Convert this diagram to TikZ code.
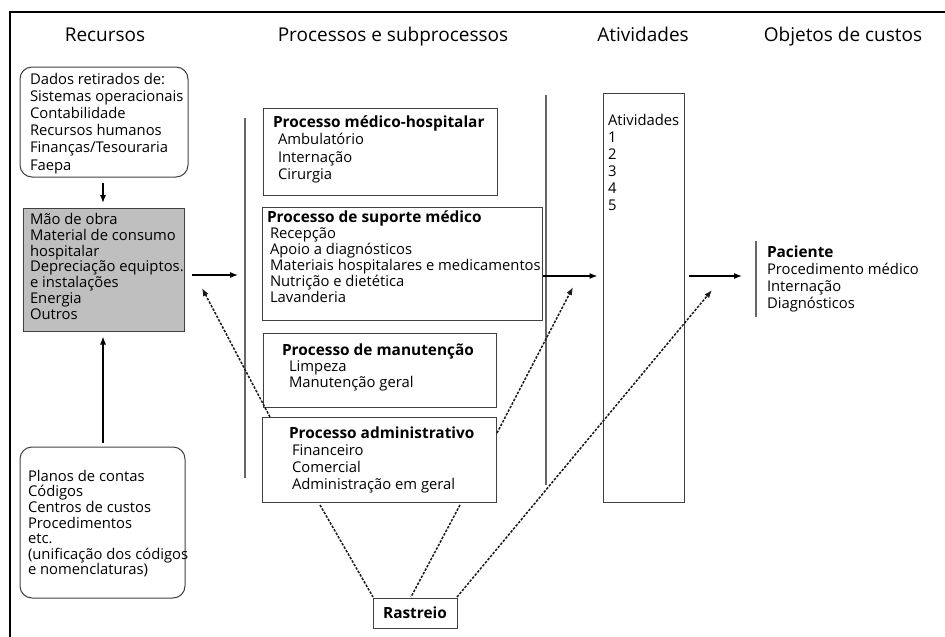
\documentclass[tikz,border=0pt]{standalone}
\usepackage{fontspec}
\setmainfont{Open Sans}
\usetikzlibrary{fit,arrows.meta}
\newcommand{\mylines}[2]{{\fontsize{14.8}{#1}\selectfont\begin{tabular}[t]{@{}l@{}}#2\end{tabular}}}
\newcommand{\hd}[1]{{\fontsize{15.4}{16}\selectfont\bfseries #1}}
\tikzset{
  frame/.style={draw=black, line width=1.2pt},
  box/.style={draw=black!75, line width=1pt, inner sep=0pt},
  rbox/.style={box, rounded corners=12pt},
  gbox/.style={box, fill=black!25},
  txt/.style={anchor=base west, inner sep=0pt, outer sep=0pt},
  title/.style={anchor=base, inner sep=0pt, font=\fontsize{19}{21}\selectfont},
  vline/.style={draw=black!60, line width=1.2pt},
  arr/.style={-{Latex[length=8pt,width=6pt]}, line width=1.2pt, draw=black},
  dotarr/.style={-{Latex[length=8pt,width=6pt]}, line width=1.5pt, draw=black!90, dash pattern=on 2.5pt off 1.5pt},
  dotline/.style={line width=1.5pt, draw=black!90, dash pattern=on 2.5pt off 1.5pt},
}
\begin{document}
\begin{tikzpicture}[x=1pt,y=-1pt]
\useasboundingbox (0,0) rectangle (945,637);
% frame (only top and left visible)
\draw[frame] (945,12) -- (10,12) -- (10,637);

% titles
\node[title] (h1) at (105,41) {Recursos};
\node[title] (h2) at (393,41) {Processos e subprocessos};
\node[title] (h3) at (643,41) {Atividades};
\node[title] (h4) at (843,41) {Objetos de custos};

% resources
\coordinate (d1) at (20,67); \coordinate (d2) at (188,177);
\node[rbox, fit=(d1)(d2)] (dados) {};
\node[txt] (tdados) at (30,84) {\mylines{17.2pt}{Dados retirados de:\\Sistemas operacionais\\Contabilidade\\Recursos humanos\\Finanças/Tesouraria\\Faepa}};

\coordinate (g1) at (23,208); \coordinate (g2) at (184,331);
\node[gbox, fit=(g1)(g2)] (gray) {};
\node[txt] (tgray) at (30,224) {\mylines{15.9pt}{Mão de obra\\Material de consumo\\hospitalar\\Depreciação equiptos.\\e instalações\\Energia\\Outros}};

\coordinate (p1) at (20,447); \coordinate (p2) at (185,598);
\node[rbox, fit=(p1)(p2)] (planos) {};
\node[txt] (tplanos) at (28,481) {\mylines{15pt}{Planos de contas\\Códigos\\Centros de custos\\Procedimentos\\etc.\\(unificação dos códigos\\e nomenclaturas)}};

% process column lines
\coordinate (L1a) at (245,118); \coordinate (L1b) at (245,478);
\draw[vline] (L1a) -- (L1b);
\coordinate (L2a) at (546,95); \coordinate (L2b) at (546,485);
\draw[vline] (L2a) -- (L2b);

% process boxes
\coordinate (m1) at (263,108); \coordinate (m2) at (497,195);
\node[box, fit=(m1)(m2)] (med) {};
\node[txt] (tmed) at (273,127) {\mylines{17.6pt}{\hd{Processo médico-hospitalar}\\\hspace*{5pt}Ambulatório\\\hspace*{5pt}Internação\\\hspace*{5pt}Cirurgia}};

\coordinate (s1) at (262,207); \coordinate (s2) at (542,320);
\node[box, fit=(s1)(s2)] (sup) {};
\node[txt] (tsup) at (267,222) {\mylines{16pt}{\hd{Processo de suporte médico}\\\hspace*{3pt}Recepção\\\hspace*{3pt}Apoio a diagnósticos\\\hspace*{3pt}Materiais hospitalares e medicamentos\\\hspace*{3pt}Nutrição e dietética\\\hspace*{3pt}Lavanderia}};

\coordinate (n1) at (263,333); \coordinate (n2) at (496,407);
\node[box, fit=(n1)(n2)] (man) {};
\node[txt] (tman) at (282,355) {\mylines{16pt}{\hd{Processo de manutenção}\\\hspace*{7pt}Limpeza\\\hspace*{7pt}Manutenção geral}};

\coordinate (a1) at (262,417); \coordinate (a2) at (496,502);
\node[box, fit=(a1)(a2)] (adm) {};
\node[txt] (tadm) at (289,438) {\mylines{17pt}{\hd{Processo administrativo}\\\hspace*{3pt}Financeiro\\\hspace*{3pt}Comercial\\\hspace*{3pt}Administração em geral}};

\node[box, minimum width=84pt, minimum height=30pt, font=\fontsize{15.4}{16}\selectfont\bfseries] (ras) at (415,613) {Rastreio};

% activities
\coordinate (v1) at (603,93); \coordinate (v2) at (684,502);
\node[box, fit=(v1)(v2)] (ativ) {};
\node[txt] (tativ) at (608,125) {\mylines{17pt}{Atividades\\1\\2\\3\\4\\5}};

% cost objects
\coordinate (c1) at (756,241); \coordinate (c2) at (756,317);
\draw[vline] (c1) -- (c2);
\node[txt] (tpac) at (767,257) {\mylines{17pt}{\hd{Paciente}\\Procedimento médico\\Internação\\Diagnósticos}};

% solid arrows
\draw[arr] (dados.south -| 103,0) ++(0,5) coordinate (x1) -- (103,203) coordinate (x2);
\draw[arr, shorten <=4pt, shorten >=5pt] (planos.north -| 103,0) -- (gray.south -| 103,0);
\coordinate (ga) at (192,275); \coordinate (gb) at (238,275);
\draw[arr] (ga) -- (gb);
\draw[arr, shorten >=5pt] (sup.east |- 0,276) -- (ativ.west |- 0,276);
\draw[arr, shorten <=4pt, shorten >=14pt] (ativ.east |- 0,276) -- (c1 |- 0,276);

% dotted arrows
\coordinate (e1) at (270,417); \coordinate (e2) at (202,288);
\draw[dotarr] (e1) -- (e2);
\coordinate (f1) at (497,433); \coordinate (f2) at (573,287);
\draw[dotarr] (f1) -- (f2);
\coordinate (r3) at (457,597); \coordinate (r4) at (712,290);
\draw[dotarr] (r3) -- (r4);
\draw[dotline] (320,505) -- (373,597);
\draw[dotline] (460,505) -- (411,597);
\end{tikzpicture}
\end{document}
